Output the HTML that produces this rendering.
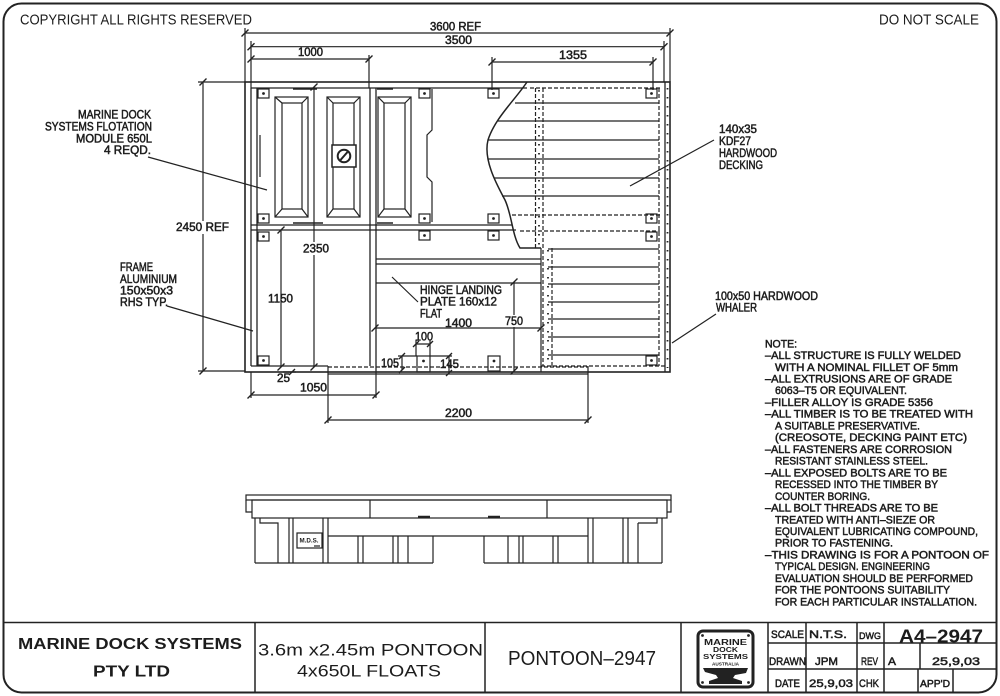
<!DOCTYPE html>
<html><head><meta charset="utf-8">
<style>
html,body{margin:0;padding:0;background:#fff;}
svg{display:block;}
text{font-family:"Liberation Sans",sans-serif;fill:#1c1c1c;}
.t{stroke:#1c1c1c;stroke-width:0.5;}
.tb{font-weight:bold;}
</style></head><body>
<svg width="1000" height="696" viewBox="0 0 1000 696" xmlns="http://www.w3.org/2000/svg">
<defs>
<g id="bolt"><rect x="0" y="0" width="11" height="9" fill="none" stroke="#222" stroke-width="1.2"/><circle cx="5.5" cy="4.5" r="1.4" fill="#222"/></g>
</defs>
<rect x="0" y="0" width="1000" height="696" fill="#fff"/>

<!-- border -->
<rect x="3.5" y="3.5" width="993" height="689" rx="18" fill="none" stroke="#222" stroke-width="2"/>

<text x="20" y="24.3" font-size="14.5" textLength="232" lengthAdjust="spacingAndGlyphs">COPYRIGHT ALL RIGHTS RESERVED</text>
<text x="879" y="24.3" font-size="14.5" textLength="100" lengthAdjust="spacingAndGlyphs">DO NOT SCALE</text>

<g stroke="#222" stroke-width="1.2" fill="none">
<!-- dimension lines top -->
<path d="M245,33 H670 M251,46.7 H664 M251,59 H369 M492,62 H653"/>
<path d="M245,28 V82 M670,28 V82 M251,41 V88 M664,41 V82 M369,55 V88 M492,57 V90 M653,57 V90"/>
<!-- 2450 REF -->
<path d="M203,82 V371 M198,82 H245 M198,371 H245"/>

<!-- plan frame -->
<rect x="245" y="82" width="425" height="290" stroke-width="1.6"/>
<path d="M251,88 H527 M251,88 V366 M257,88 V366 M665,82 V372 M251,366 H328" stroke-width="1.3"/>
<path d="M370,88 V366 M376,88 V372" stroke-width="1.3"/>
<path d="M251,225 H512 M251,230 H516" stroke-width="1.3"/>
<path d="M432,89 V130 L427,135 V177 L432,182 V222 M260,135 V177"/>
<path d="M293,89 H317 M377,89 H393 M293,223 H323 M377,223 H393" stroke-width="1.6"/>

<!-- float panels -->
<rect x="275" y="97" width="33" height="120"/><rect x="282" y="103" width="20" height="106"/>
<path d="M275,97 L282,103 M308,97 L302,103 M275,217 L282,209 M308,217 L302,209"/>
<rect x="327" y="97" width="33" height="120"/><rect x="333" y="103" width="21" height="106"/>
<path d="M327,97 L333,103 M360,97 L354,103 M327,217 L333,209 M360,217 L354,209"/>
<rect x="378" y="97" width="33" height="120"/><rect x="384" y="103" width="21" height="106"/>
<path d="M378,97 L384,103 M411,97 L405,103 M378,217 L384,209 M411,217 L405,209"/>
<rect x="332" y="145" width="24" height="22" fill="#fff" stroke-width="1.5"/>
<circle cx="344" cy="156" r="6.3" stroke-width="2"/>
<path d="M340.5,160 L347.5,152" stroke-width="2"/>

<!-- middle bay lower -->
<path d="M376,259 H541 M376,264 H541 M376,283 H541"/>

<!-- break line & decking -->
<path d="M527,82 C515,100 495,118 488,140 C483,160 497,185 505,200 C512,215 512,235 520,248 L541,248" stroke-width="1.5"/>
<path d="M515,103 H659 M498,121 H659 M488,140 H659 M488,159 H659 M494,178 H659 M502,196 H659"/>
<path d="M548,249 H659 M548,267 H659 M548,284 H659 M548,302 H659 M548,319 H659 M548,337 H659 M548,355 H659"/>
<path d="M530,88 H660 M512,215 H660 M520,231 H660 M541,366 H665" stroke-dasharray="4,2"/>
<path d="M535.5,88 V248 M543,88 V366 M552,248 V366 M659,88 V366" stroke-dasharray="4,2"/>
<path d="M541,248 V372"/>
<path d="M539,90 V248 M548,250 V366 M667.5,88 V368" stroke-width="1.8" stroke-dasharray="1.5,7.5"/>

<!-- hinge plate bottom -->
<path d="M328,367 H588" stroke-dasharray="4,2"/>
<path d="M328,374 H588 M588,366 V374 M328,366 V374"/>

<!-- interior dims -->
<path d="M314,87 V242 M314,255 V367 M281,230 V367 M375,328 H541 M514,282 V315 M514,327 V371"/>
<path d="M416,344 H430 M416,340 V356 M430,340 V356 M402,356 V370 M398,356 H417 M449,356 V373 M430,356 H452"/>
<path d="M251,372 V398 M376,372 V398 M251,395 H376 M328,374 V423 M588,374 V423 M328,420 H588 M283,372 H296"/>

<!-- ticks -->
<g stroke-width="1.4">
<path d="M241.5,36.5 L248.5,29.5 M666.5,36.5 L673.5,29.5 M247.5,50.2 L254.5,43.2 M660.5,50.2 L667.5,43.2 M247.5,62.5 L254.5,55.5 M365.5,62.5 L372.5,55.5 M488.5,65.5 L495.5,58.5 M649.5,65.5 L656.5,58.5"/>
<path d="M199.5,85.5 L206.5,78.5 M199.5,374.5 L206.5,367.5 M310.5,90.5 L317.5,83.5 M310.5,370.5 L317.5,363.5 M277.5,233.5 L284.5,226.5 M277.5,370.5 L284.5,363.5"/>
<path d="M371.5,331.5 L378.5,324.5 M537.5,331.5 L544.5,324.5 M510.5,285.5 L517.5,278.5 M510.5,374.5 L517.5,367.5"/>
<path d="M413,347 L419,341 M427,347 L433,341 M399,359 L405,353 M399,373 L405,367 M446,359 L452,353 M446,376 L452,370 M289,375 L295,369"/>
<path d="M247.5,398.5 L254.5,391.5 M372.5,398.5 L379.5,391.5 M324.5,423.5 L331.5,416.5 M584.5,423.5 L591.5,416.5"/>
</g>

<!-- leaders -->
<path d="M148,157 L267,190 M167,306 L253,331 M714,140 L630,186 M716,314 L672,343 M392,277 L418,302"/>

<!-- bottom tall bolts -->
<rect x="417" y="356" width="13" height="16"/><rect x="488" y="356" width="12" height="15"/>
</g>
<circle cx="423.5" cy="361" r="1.4" fill="#222"/><circle cx="494" cy="361" r="1.4" fill="#222"/>

<!-- bolts -->
<use href="#bolt" x="258" y="89"/><use href="#bolt" x="258" y="214"/><use href="#bolt" x="258" y="232"/><use href="#bolt" x="258" y="356"/>
<use href="#bolt" x="419" y="89"/><use href="#bolt" x="488" y="89"/><use href="#bolt" x="419" y="214"/><use href="#bolt" x="488" y="214"/>
<use href="#bolt" x="419" y="231"/><use href="#bolt" x="488" y="231"/>
<use href="#bolt" x="646" y="89"/><use href="#bolt" x="646" y="214"/><use href="#bolt" x="646" y="232"/><use href="#bolt" x="646" y="356"/>

<!-- white backgrounds for dims -->
<rect x="174" y="221" width="58" height="13" fill="#fff"/>

<!-- labels -->
<g class="t" font-size="11.5">
<text x="78" y="118.5" textLength="73" lengthAdjust="spacingAndGlyphs">MARINE DOCK</text>
<text x="45" y="130.5" textLength="107" lengthAdjust="spacingAndGlyphs">SYSTEMS FLOTATION</text>
<text x="76" y="142.3" textLength="76" lengthAdjust="spacingAndGlyphs">MODULE 650L</text>
<text x="104" y="154" textLength="47" lengthAdjust="spacingAndGlyphs">4 REQD.</text>
<text x="176" y="231" textLength="53" lengthAdjust="spacingAndGlyphs">2450 REF</text>
<text x="120" y="271" textLength="33" lengthAdjust="spacingAndGlyphs">FRAME</text>
<text x="120" y="283" textLength="57" lengthAdjust="spacingAndGlyphs">ALUMINIUM</text>
<text x="120" y="294.5" textLength="53" lengthAdjust="spacingAndGlyphs">150x50x3</text>
<text x="120" y="306" textLength="48" lengthAdjust="spacingAndGlyphs">RHS TYP.</text>
<text x="719" y="133" textLength="38" lengthAdjust="spacingAndGlyphs">140x35</text>
<text x="719" y="145" textLength="32" lengthAdjust="spacingAndGlyphs">KDF27</text>
<text x="719" y="157" textLength="58" lengthAdjust="spacingAndGlyphs">HARDWOOD</text>
<text x="719" y="169" textLength="44" lengthAdjust="spacingAndGlyphs">DECKING</text>
<text x="715" y="300" textLength="103" lengthAdjust="spacingAndGlyphs">100x50 HARDWOOD</text>
<text x="716" y="311.7" textLength="41" lengthAdjust="spacingAndGlyphs">WHALER</text>
<text x="430" y="30.7" textLength="51" lengthAdjust="spacingAndGlyphs">3600 REF</text>
<text x="445" y="44" textLength="27" lengthAdjust="spacingAndGlyphs">3500</text>
<text x="298" y="56" textLength="25" lengthAdjust="spacingAndGlyphs">1000</text>
<text x="559" y="59" textLength="28" lengthAdjust="spacingAndGlyphs">1355</text>
<text x="303" y="252.7" textLength="26" lengthAdjust="spacingAndGlyphs">2350</text>
<text x="268" y="302.7" textLength="25" lengthAdjust="spacingAndGlyphs">1150</text>
<text x="445" y="327" textLength="27" lengthAdjust="spacingAndGlyphs">1400</text>
<text x="505" y="325" textLength="18" lengthAdjust="spacingAndGlyphs">750</text>
<text x="415" y="340.5" textLength="18" lengthAdjust="spacingAndGlyphs">100</text>
<text x="381" y="367" textLength="18" lengthAdjust="spacingAndGlyphs">105</text>
<text x="440" y="368" textLength="19" lengthAdjust="spacingAndGlyphs">145</text>
<text x="277" y="382" textLength="13" lengthAdjust="spacingAndGlyphs">25</text>
<text x="300" y="391.7" textLength="27" lengthAdjust="spacingAndGlyphs">1050</text>
<text x="445" y="417" textLength="27" lengthAdjust="spacingAndGlyphs">2200</text>
<text x="420" y="294" textLength="82" lengthAdjust="spacingAndGlyphs">HINGE LANDING</text>
<text x="420" y="305.7" textLength="77" lengthAdjust="spacingAndGlyphs">PLATE 160x12</text>
<text x="420" y="317.3" textLength="22" lengthAdjust="spacingAndGlyphs">FLAT</text>
</g>

<!-- notes -->
<g class="t" font-size="11">
<text x="765" y="347.3" textLength="32" lengthAdjust="spacingAndGlyphs">NOTE:</text>
<text x="765" y="359.0" textLength="196" lengthAdjust="spacingAndGlyphs">–ALL STRUCTURE IS FULLY WELDED</text>
<text x="775" y="370.8" textLength="183" lengthAdjust="spacingAndGlyphs">WITH A NOMINAL FILLET OF 5mm</text>
<text x="765" y="382.5" textLength="187" lengthAdjust="spacingAndGlyphs">–ALL EXTRUSIONS ARE OF GRADE</text>
<text x="775" y="394.2" textLength="132" lengthAdjust="spacingAndGlyphs">6063–T5 OR EQUIVALENT.</text>
<text x="765" y="406.0" textLength="168" lengthAdjust="spacingAndGlyphs">–FILLER ALLOY IS GRADE 5356</text>
<text x="765" y="417.7" textLength="208" lengthAdjust="spacingAndGlyphs">–ALL TIMBER IS TO BE TREATED WITH</text>
<text x="775" y="429.4" textLength="145" lengthAdjust="spacingAndGlyphs">A SUITABLE PRESERVATIVE.</text>
<text x="775" y="441.2" textLength="192" lengthAdjust="spacingAndGlyphs">(CREOSOTE, DECKING PAINT ETC)</text>
<text x="765" y="452.9" textLength="187" lengthAdjust="spacingAndGlyphs">–ALL FASTENERS ARE CORROSION</text>
<text x="775" y="464.6" textLength="153" lengthAdjust="spacingAndGlyphs">RESISTANT STAINLESS STEEL.</text>
<text x="765" y="476.3" textLength="182" lengthAdjust="spacingAndGlyphs">–ALL EXPOSED BOLTS ARE TO BE</text>
<text x="775" y="488.1" textLength="163" lengthAdjust="spacingAndGlyphs">RECESSED INTO THE TIMBER BY</text>
<text x="775" y="499.8" textLength="95" lengthAdjust="spacingAndGlyphs">COUNTER BORING.</text>
<text x="765" y="511.5" textLength="173" lengthAdjust="spacingAndGlyphs">–ALL BOLT THREADS ARE TO BE</text>
<text x="775" y="523.3" textLength="160" lengthAdjust="spacingAndGlyphs">TREATED WITH ANTI–SIEZE OR</text>
<text x="775" y="535.0" textLength="203" lengthAdjust="spacingAndGlyphs">EQUIVALENT LUBRICATING COMPOUND,</text>
<text x="775" y="546.7" textLength="118" lengthAdjust="spacingAndGlyphs">PRIOR TO FASTENING.</text>
<text x="765" y="558.4" textLength="224" lengthAdjust="spacingAndGlyphs">–THIS DRAWING IS FOR A PONTOON OF</text>
<text x="775" y="570.2" textLength="155" lengthAdjust="spacingAndGlyphs">TYPICAL DESIGN. ENGINEERING</text>
<text x="775" y="581.9" textLength="198" lengthAdjust="spacingAndGlyphs">EVALUATION SHOULD BE PERFORMED</text>
<text x="775" y="593.6" textLength="175" lengthAdjust="spacingAndGlyphs">FOR THE PONTOONS SUITABILITY</text>
<text x="775" y="605.4" textLength="202" lengthAdjust="spacingAndGlyphs">FOR EACH PARTICULAR INSTALLATION.</text>
</g>

<!-- side elevation -->
<g stroke="#222" stroke-width="1.2" fill="none">
<rect x="246" y="495" width="425" height="5"/>
<path d="M246,500 V512 H252 M671,500 V512 H667"/>
<rect x="252" y="500" width="415" height="18"/>
<path d="M370,500 V518 M547,500 V518"/>
<path d="M418,517 H430 M488,517 H500" stroke-width="2.5"/>
<path d="M255,518 V563 M260,518 V523 H278 V563 M289,518 V563 M293,518 V563 M323,518 V563 M328,518 V563"/>
<path d="M328,536 H588"/>
<path d="M358,536 V563 M363,536 V563 M393,536 V563 M398,536 V563 M408,536 V563 M433,536 V563"/>
<path d="M255,563 H433 M484,563 H662"/>
<path d="M484,536 V563 M508,536 V563 M519,536 V563 M523,536 V563 M553,536 V563 M558,536 V563"/>
<path d="M588,518 V563 M593,518 V563 M623,518 V563 M628,518 V563 M638,523 V563 M638,523 H657 V518 M662,518 V563"/>
<rect x="297" y="533" width="25" height="15"/>
</g>
<text x="299.5" y="542.5" font-size="6" class="tb" textLength="19" lengthAdjust="spacingAndGlyphs">M.D.S.</text>
<path d="M314,546 H320" stroke="#222" stroke-width="1.2"/>

<!-- title block -->
<g stroke="#222" stroke-width="1.5" fill="none">
<path d="M4,622.5 H996"/>
<path d="M255,622.5 V692 M485,622.5 V692 M681,622.5 V692 M768,622.5 V692 M806,622.5 V692 M857,622.5 V692 M884,622.5 V692"/>
<path d="M768,643 H996 M768,669 H996"/>
<path d="M920,643 V669 M918,669 V692 M953,669 V692"/>
<rect x="698" y="631" width="55" height="56" rx="5" stroke-width="3"/>
</g>
<g fill="#222">
<circle cx="702.5" cy="635.5" r="1.4"/><circle cx="748.5" cy="635.5" r="1.4"/><circle cx="702.5" cy="682.5" r="1.4"/><circle cx="748.5" cy="682.5" r="1.4"/>
<path d="M703,668 L748,668 L746,673 L735,675 L733,678 L742,681 L742,684 L709,684 L709,681 L718,678 L716,675 L705,672 Z"/>
</g>
<g class="tb">
<text x="704" y="645" font-size="8" textLength="43" lengthAdjust="spacingAndGlyphs">MARINE</text>
<text x="713" y="652" font-size="7" textLength="25" lengthAdjust="spacingAndGlyphs">DOCK</text>
<text x="703" y="659" font-size="7.5" textLength="45" lengthAdjust="spacingAndGlyphs">SYSTEMS</text>
<text x="712" y="665.5" font-size="4.5" textLength="27" lengthAdjust="spacingAndGlyphs">AUSTRALIA</text>
</g>

<text x="18" y="649" font-size="16" class="tb" textLength="224" lengthAdjust="spacingAndGlyphs">MARINE DOCK SYSTEMS</text>
<text x="93" y="676.5" font-size="16" class="tb" textLength="77" lengthAdjust="spacingAndGlyphs">PTY LTD</text>
<text x="258" y="655.5" font-size="17" textLength="225" lengthAdjust="spacingAndGlyphs">3.6m x2.45m PONTOON</text>
<text x="297" y="676.7" font-size="17" textLength="144" lengthAdjust="spacingAndGlyphs">4x650L FLOATS</text>
<text x="508" y="665" font-size="20" textLength="148" lengthAdjust="spacingAndGlyphs">PONTOON–2947</text>

<g class="t" font-size="11">
<text x="771" y="638" textLength="33" lengthAdjust="spacingAndGlyphs">SCALE</text>
<text x="809" y="638" textLength="38" lengthAdjust="spacingAndGlyphs">N.T.S.</text>
<text x="859" y="639" font-size="9.5" textLength="22" lengthAdjust="spacingAndGlyphs">DWG</text>
<text x="769" y="665" textLength="37" lengthAdjust="spacingAndGlyphs">DRAWN</text>
<text x="815" y="665" textLength="23" lengthAdjust="spacingAndGlyphs">JPM</text>
<text x="861" y="665" textLength="17" lengthAdjust="spacingAndGlyphs">REV</text>
<text x="888" y="665" textLength="8" lengthAdjust="spacingAndGlyphs">A</text>
<text x="932" y="665" textLength="48" lengthAdjust="spacingAndGlyphs">25,9,03</text>
<text x="775" y="687" textLength="25" lengthAdjust="spacingAndGlyphs">DATE</text>
<text x="809" y="687" textLength="44" lengthAdjust="spacingAndGlyphs">25,9,03</text>
<text x="859" y="687" textLength="20" lengthAdjust="spacingAndGlyphs">CHK</text>
<text x="920" y="687" font-size="10" textLength="30" lengthAdjust="spacingAndGlyphs">APP'D</text>
</g>
<text x="899" y="642.5" font-size="18" class="tb" textLength="84" lengthAdjust="spacingAndGlyphs">A4–2947</text>
</svg>
</body></html>
